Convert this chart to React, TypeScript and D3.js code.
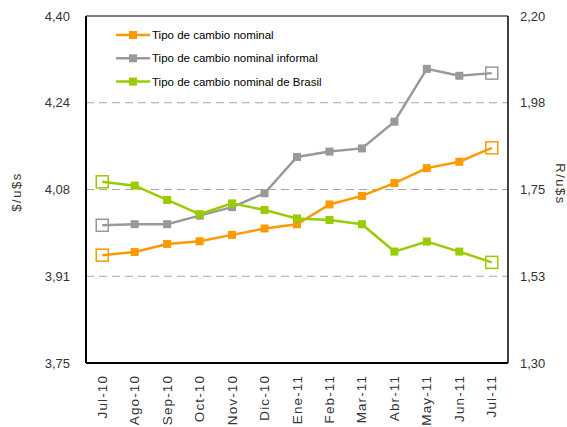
import React from "react";
import * as d3 from "d3";

const categories = ["Jul-10","Ago-10","Sep-10","Oct-10","Nov-10","Dic-10","Ene-11","Feb-11","Mar-11","Abr-11","May-11","Jun-11","Jul-11"];
const nominal = [3.952,3.958,3.973,3.978,3.990,4.002,4.010,4.047,4.063,4.087,4.115,4.127,4.153];
const informal = [4.008,4.010,4.010,4.026,4.042,4.068,4.136,4.146,4.152,4.202,4.301,4.288,4.293];
const brasil = [1.770,1.760,1.723,1.686,1.714,1.697,1.675,1.671,1.660,1.589,1.615,1.589,1.561];
const leftTicks = [3.75,3.9125,4.075,4.2375,4.40];
const leftLabels = ["3,75","3,91","4,08","4,24","4,40"];
const rightTicks = [1.30,1.525,1.75,1.975,2.20];
const rightLabels = ["1,30","1,53","1,75","1,98","2,20"];
const seriesNames = ["Tipo de cambio nominal","Tipo de cambio nominal informal","Tipo de cambio nominal de Brasil"];

const W = 567, H = 427;
const L = 86, R = 508, T = 16, B = 363;
const font = "'Liberation Sans', Arial, sans-serif";

export default function App() {
  const x = d3.scaleBand<string>().domain(categories).range([L, R]);
  const cx = (c: string) => (x(c) as number) + x.bandwidth() / 2;
  const yL = d3.scaleLinear().domain([3.75, 4.40]).range([B, T]);
  const yR = d3.scaleLinear().domain([1.30, 2.20]).range([B, T]);
  const series = [
    { vals: nominal, y: yL, color: "#FF9900" },
    { vals: informal, y: yL, color: "#999999" },
    { vals: brasil, y: yR, color: "#99CC00" },
  ];
  const line = (vals: number[], y: d3.ScaleLinear<number, number>) =>
    d3.line<number>().x((_, i) => cx(categories[i])).y((v) => y(v))(vals) as string;
  const last = categories.length - 1;

  return (
    <svg width={W} height={H} style={{ position: "absolute", left: 0, top: 0, background: "#fff" }} fontFamily={font}>
      {leftTicks.slice(1, 4).map((t, i) => (
        <line key={"g" + i} x1={L} x2={R} y1={yL(t)} y2={yL(t)} stroke="#a6a6a6" strokeWidth={1} strokeDasharray="8,5" />
      ))}
      <line x1={L} x2={R} y1={T} y2={T} stroke="#000" strokeWidth={1} />
      <line x1={R} x2={R} y1={T} y2={B} stroke="#000" strokeWidth={1.5} />
      <line x1={L} x2={L} y1={T} y2={B} stroke="#000" strokeWidth={2} />
      <line x1={L} x2={R} y1={B} y2={B} stroke="#000" strokeWidth={2} />
      {leftTicks.map((t, i) => (
        <text key={"l" + i} x={70} y={yL(t) + 4.5} textAnchor="end" fontSize={13} fill="#333">{leftLabels[i]}</text>
      ))}
      {rightTicks.map((t, i) => (
        <text key={"r" + i} x={520} y={yR(t) + 4.5} textAnchor="start" fontSize={13} fill="#333">{rightLabels[i]}</text>
      ))}
      <text transform={`translate(21,192) rotate(-90)`} textAnchor="middle" fontSize={13} fill="#333" letterSpacing={1.5}>$/u$s</text>
      <text transform={`translate(556,184) rotate(90)`} textAnchor="middle" fontSize={13} fill="#333" letterSpacing={1.5}>R/u$s</text>
      {categories.map((c) => (
        <text key={c} transform={`translate(${cx(c) + 4.5},375) rotate(-90)`} textAnchor="end" fontSize={13.5} fill="#333" letterSpacing={1.1}>{c}</text>
      ))}
      {series.map((s, si) => (
        <g key={"s" + si}>
          <path d={line(s.vals, s.y)} fill="none" stroke={s.color} strokeWidth={2.5} />
          {s.vals.map((v, i) =>
            i === 0 || i === last ? (
              <rect key={i} x={cx(categories[i]) - 6} y={s.y(v) - 6} width={12} height={12} fill="none" stroke={s.color} strokeWidth={1.5} />
            ) : (
              <rect key={i} x={cx(categories[i]) - 4} y={s.y(v) - 4} width={8} height={8} fill={s.color} />
            )
          )}
        </g>
      ))}
      {seriesNames.map((n, i) => {
        const yy = 35 + i * 23.3;
        return (
          <g key={"lg" + i}>
            <line x1={116} x2={150} y1={yy} y2={yy} stroke={series[i].color} strokeWidth={2.5} />
            <rect x={129} y={yy - 4} width={8} height={8} fill={series[i].color} />
            <text x={152} y={yy + 4} fontSize={11.5} fill="#000">{n}</text>
          </g>
        );
      })}
    </svg>
  );
}
